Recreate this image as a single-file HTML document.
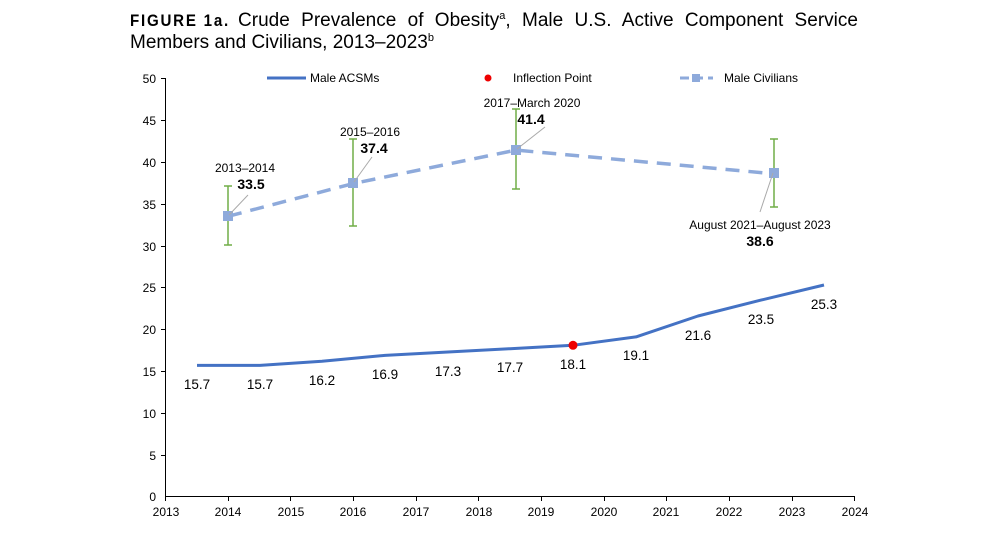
<!DOCTYPE html>
<html><head><meta charset="utf-8"><style>body{margin:0;background:#fff}svg{display:block;font-family:"Liberation Sans",Arial,sans-serif}</style></head>
<body>
<svg width="1000" height="536" viewBox="0 0 1000 536">
<text x="130" y="26" font-size="17" font-weight="bold" letter-spacing="2" textLength="100" lengthAdjust="spacingAndGlyphs">FIGURE 1a.</text>
<text x="238" y="26" font-size="19" word-spacing="6" textLength="620" lengthAdjust="spacing">Crude Prevalence of Obesity<tspan font-size="11" dy="-7">a</tspan><tspan dy="7">, Male U.S. Active Component Service</tspan></text>
<text x="130" y="48" font-size="19">Members and Civilians, 2013–2023<tspan font-size="11" dy="-7">b</tspan></text>
<g stroke="#000" stroke-width="1">
<line x1="165.5" y1="78" x2="165.5" y2="497"/>
<line x1="165" y1="496.5" x2="855" y2="496.5"/>
</g>
<g stroke="#000" stroke-width="1">
<line x1="161" x2="166" y1="78.5" y2="78.5"/><line x1="161" x2="166" y1="120.5" y2="120.5"/><line x1="161" x2="166" y1="162.5" y2="162.5"/><line x1="161" x2="166" y1="204.5" y2="204.5"/><line x1="161" x2="166" y1="246.5" y2="246.5"/><line x1="161" x2="166" y1="287.5" y2="287.5"/><line x1="161" x2="166" y1="329.5" y2="329.5"/><line x1="161" x2="166" y1="371.5" y2="371.5"/><line x1="161" x2="166" y1="413.5" y2="413.5"/><line x1="161" x2="166" y1="455.5" y2="455.5"/>
<line y1="496" y2="501" x1="165.5" x2="165.5"/><line y1="496" y2="501" x1="228.5" x2="228.5"/><line y1="496" y2="501" x1="290.5" x2="290.5"/><line y1="496" y2="501" x1="353.5" x2="353.5"/><line y1="496" y2="501" x1="416.5" x2="416.5"/><line y1="496" y2="501" x1="478.5" x2="478.5"/><line y1="496" y2="501" x1="541.5" x2="541.5"/><line y1="496" y2="501" x1="604.5" x2="604.5"/><line y1="496" y2="501" x1="666.5" x2="666.5"/><line y1="496" y2="501" x1="729.5" x2="729.5"/><line y1="496" y2="501" x1="792.5" x2="792.5"/><line y1="496" y2="501" x1="854.5" x2="854.5"/>
</g>
<g font-size="12" text-anchor="end">
<text x="156" y="83">50</text><text x="156" y="125">45</text><text x="156" y="167">40</text><text x="156" y="209">35</text><text x="156" y="251">30</text><text x="156" y="292">25</text><text x="156" y="334">20</text><text x="156" y="376">15</text><text x="156" y="418">10</text><text x="156" y="460">5</text><text x="156" y="501">0</text>
</g>
<g font-size="12" text-anchor="middle">
<text x="166" y="516">2013</text><text x="228" y="516">2014</text><text x="291" y="516">2015</text><text x="353" y="516">2016</text><text x="416" y="516">2017</text><text x="479" y="516">2018</text><text x="541" y="516">2019</text><text x="604" y="516">2020</text><text x="666" y="516">2021</text><text x="729" y="516">2022</text><text x="792" y="516">2023</text><text x="855" y="516">2024</text>
</g>
<line x1="267" y1="78" x2="306" y2="78" stroke="#4472c4" stroke-width="3"/>
<text x="310" y="82" font-size="12">Male ACSMs</text>
<circle cx="488" cy="78" r="3.5" fill="#e00"/>
<text x="513" y="82" font-size="12">Inflection Point</text>
<line x1="680" y1="78" x2="713" y2="78" stroke="#8eaadb" stroke-width="3" stroke-dasharray="9,5"/>
<rect x="692" y="74" width="8" height="8" fill="#8eaadb"/>
<text x="724" y="82" font-size="12">Male Civilians</text>
<polyline fill="none" stroke="#4472c4" stroke-width="3" stroke-linejoin="round" points="197,365.4 260,365.4 322,361.2 385,355.4 448,352.0 510,348.7 573,345.3 636,336.9 698,316.0 761,300.1 824,285.0"/>
<circle cx="573" cy="345.3" r="4.5" fill="#e00"/>
<g font-size="13.5" text-anchor="middle">
<text x="197" y="389">15.7</text><text x="260" y="389">15.7</text><text x="322" y="385">16.2</text><text x="385" y="379">16.9</text><text x="448" y="376">17.3</text><text x="510" y="372">17.7</text><text x="573" y="369">18.1</text><text x="636" y="360">19.1</text><text x="698" y="340">21.6</text><text x="761" y="324">23.5</text><text x="824" y="309">25.3</text>
</g>
<polyline fill="none" stroke="#8eaadb" stroke-width="3.5" stroke-dasharray="14,9" points="228,216.3 353,183.6 516,150.1 772,173.6"/>
<g stroke="#70ad47" stroke-width="1.5">
<line x1="228" x2="228" y1="186" y2="245"/><line x1="224" x2="232" y1="186" y2="186"/><line x1="224" x2="232" y1="245" y2="245"/>
<line x1="353" x2="353" y1="139" y2="226"/><line x1="349" x2="357" y1="139" y2="139"/><line x1="349" x2="357" y1="226" y2="226"/>
<line x1="516" x2="516" y1="109" y2="189"/><line x1="512" x2="520" y1="109" y2="109"/><line x1="512" x2="520" y1="189" y2="189"/>
<line x1="774" x2="774" y1="139" y2="207"/><line x1="770" x2="778" y1="139" y2="139"/><line x1="770" x2="778" y1="207" y2="207"/>
</g>
<g fill="#8eaadb">
<rect x="223" y="211" width="10" height="10"/><rect x="348" y="178" width="10" height="10"/><rect x="511" y="145" width="10" height="10"/><rect x="769" y="168" width="10" height="10"/>
</g>
<g stroke="#aaa" stroke-width="1">
<line x1="229" y1="215" x2="248" y2="195"/><line x1="354" y1="182" x2="372" y2="157"/><line x1="517" y1="149" x2="545" y2="127"/><line x1="773" y1="173" x2="760" y2="212"/>
</g>
<g font-size="12" text-anchor="middle">
<text x="245" y="172">2013–2014</text><text x="251" y="189" font-weight="bold" font-size="14">33.5</text>
<text x="370" y="136">2015–2016</text><text x="374" y="153" font-weight="bold" font-size="14">37.4</text>
<text x="532" y="107">2017–March 2020</text><text x="531" y="124" font-weight="bold" font-size="14">41.4</text>
<text x="760" y="229">August 2021–August 2023</text><text x="760" y="246" font-weight="bold" font-size="14">38.6</text>
</g>
</svg>
</body></html>
